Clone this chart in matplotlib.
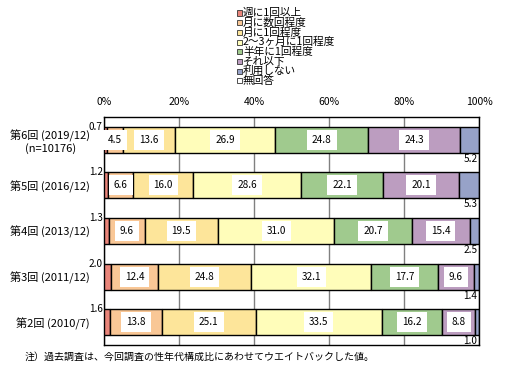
import matplotlib
matplotlib.use("Agg")
import matplotlib.pyplot as plt
from matplotlib.patches import Rectangle
import numpy as np

plt.rcParams["font.family"] = ["Noto Sans CJK JP", "DejaVu Sans"]
plt.rcParams["axes.unicode_minus"] = False

# ── Data ─────────────────────────────────────────────────────────────────────
SURVEYS = ["第6回 (2019/12)\n(n=10176)", "第5回 (2016/12)", "第4回 (2013/12)",
           "第3回 (2011/12)", "第2回 (2010/7)"]
SERIES = ["週に1回以上", "月に数回程度", "月に1回程度", "2～3ヶ月に1回程度",
          "半年に1回程度", "それ以下", "利用しない", "無回答"]
COLORS = ["#E9857A", "#F9C796", "#FDE59A", "#FFFDBA",
          "#A0CA8E", "#BC9DC0", "#97A2C8", "#FFFFFF"]

weekly   = [0.7, 1.2, 1.3, 2.0, 1.6]
monthly_ = [4.5, 6.6, 9.6, 12.4, 13.8]
monthly1 = [13.6, 16.0, 19.5, 24.8, 25.1]
bimonth  = [26.9, 28.6, 31.0, 32.1, 33.5]
halfyear = [24.8, 22.1, 20.7, 17.7, 16.2]
less     = [24.3, 20.1, 15.4, 9.6, 8.8]
notuse   = [5.2, 5.3, 2.5, 1.4, 1.0]
noans    = [0.0, 0.1, 0.0, 0.0, 0.0]

NOTE = "注）過去調査は、今回調査の性年代構成比にあわせてウエイトバックした値。"

data = np.array([weekly, monthly_, monthly1, bimonth, halfyear, less, notuse, noans])

# ── Plot ─────────────────────────────────────────────────────────────────────
fig = plt.figure(figsize=(5.06, 3.78), dpi=100)
ax = fig.add_axes([104 / 506, 1 - 345 / 378, 375 / 506, 228 / 378])

y = np.arange(len(SURVEYS))
h = 0.57
left = np.zeros(len(SURVEYS))
for i, (name, col) in enumerate(zip(SERIES, COLORS)):
    vals = data[i]
    ax.barh(y, vals, left=left, height=h, color=col, edgecolor="black",
            linewidth=1, zorder=3)
    for j, v in enumerate(vals):
        if 1 <= i <= 5:
            ax.text(left[j] + v / 2, y[j], f"{v:.1f}", ha="center", va="center",
                    fontsize=7.2, zorder=4,
                    bbox=dict(facecolor="white", edgecolor="none", pad=3.5))
        elif i == 0:
            ax.text(-0.3, y[j] - h / 2, f"{v:.1f}", ha="right", va="center",
                    fontsize=7.2, zorder=4)
        elif i == 6:
            ax.text(99.6, y[j] + h / 2 + 0.02, f"{v:.1f}", ha="right", va="top",
                    fontsize=7.2, zorder=4)
    left += vals

ax.set_xlim(0, 100)
ax.set_ylim(len(SURVEYS) - 0.5, -0.5)
ax.set_xticks([0, 20, 40, 60, 80, 100])
ax.set_xticklabels([f"{t}%" for t in range(0, 101, 20)], fontsize=7.5)
ax.xaxis.tick_top()
ax.tick_params(axis="x", length=0, pad=7)
ax.set_yticks(y)
ax.set_yticklabels(SURVEYS, fontsize=8, multialignment="center")
ax.tick_params(axis="y", length=0, pad=10)
ax.grid(axis="x", color="#808080", linewidth=1, zorder=0)
for s in ax.spines.values():
    s.set_color("black")
    s.set_linewidth(1)

# legend (manual, stacked top centre)
for k, (name, col) in enumerate(zip(SERIES, COLORS)):
    yc = 13 + k * 9.7
    fig.patches.append(Rectangle((237 / 506, 1 - (yc + 2.5) / 378), 5 / 506, 5 / 378,
                                 transform=fig.transFigure, facecolor=col,
                                 edgecolor="#333333", linewidth=0.6))
    fig.text(243 / 506, 1 - yc / 378, name, fontsize=7.7, ha="left", va="center")

fig.text(25 / 506, 1 - 357 / 378, NOTE, fontsize=7.2, ha="left", va="center")

fig.savefig("out.png", dpi=100)
